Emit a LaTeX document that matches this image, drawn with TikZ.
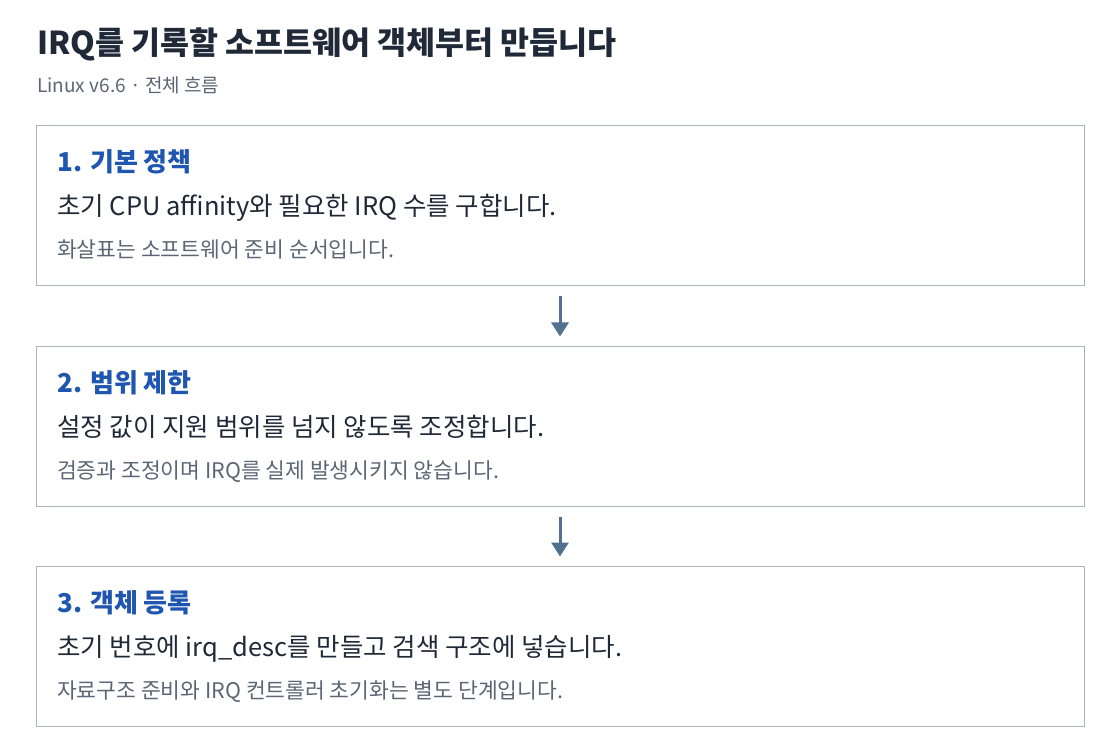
\documentclass[tikz,border=0pt]{standalone}
\usepackage{fontspec}
\setmainfont{Noto Sans CJK KR}
\usetikzlibrary{arrows.meta}
\definecolor{inkc}{HTML}{1F2937}
\definecolor{grayc}{HTML}{5B6675}
\definecolor{headc}{HTML}{1E56B0}
\definecolor{boxc}{HTML}{A9B4C2}
\definecolor{arrowc}{HTML}{52708F}
\begin{document}
\begin{tikzpicture}[x=1pt,y=-1pt]
    \tikzstyle{marrs}=[line width=3pt,-{Triangle[width=17pt,length=14pt]},draw=arrowc,shorten <=10pt,shorten >=9pt]
    \tikzstyle{stepbox}=[draw=boxc, line width=1pt, minimum width=1048pt, minimum height=160pt, inner sep=0pt]
    \tikzstyle{temp}=[inner sep=0mm, anchor=base west]
    \tikzstyle{title}=[temp, text=inkc, font=\fontsize{31.5}{36}\selectfont\bfseries]
    \tikzstyle{sub}=[temp, text=grayc, font=\fontsize{19}{22}\selectfont]
    \tikzstyle{head}=[temp, text=headc, font=\fontsize{26}{30}\selectfont\bfseries]
    \tikzstyle{body}=[temp, text=inkc, font=\fontsize{25.5}{30}\selectfont]
    \tikzstyle{note}=[temp, text=grayc, font=\fontsize{21.5}{25}\selectfont]
    \def\rstep{220}

    \useasboundingbox (0,0) rectangle (1120,754);

    \node[title] (title) at (37,55) {IRQ를 기록할 소프트웨어 객체부터 만듭니다};
    \node[sub] (sub) at (37,93) {Linux v6.6 · 전체 흐름};

    \foreach \i/\hd/\bd/\nt in {
        1/기본 정책/초기 CPU affinity와 필요한 IRQ 수를 구합니다./화살표는 소프트웨어 준비 순서입니다.,
        2/범위 제한/설정 값이 지원 범위를 넘지 않도록 조정합니다./검증과 조정이며 IRQ를 실제 발생시키지 않습니다.,
        3/객체 등록/초기 번호에 irq\_desc를 만들고 검색 구조에 넣습니다./자료구조 준비와 IRQ 컨트롤러 초기화는 별도 단계입니다.} {
        \node[stepbox] (box\i) at (560,{206+(\i-1)*\rstep}) {};
        \node[head] (head\i) at (57,{172+(\i-1)*\rstep}) {\i. \hd};
        \node[body] (body\i) at (57,{216+(\i-1)*\rstep}) {\bd};
        \node[note] (note\i) at (57,{258+(\i-1)*\rstep}) {\nt};
    }

    \draw[marrs] (box1) -- (box2);
    \draw[marrs] (box2) -- (box3);
\end{tikzpicture}
\end{document}
